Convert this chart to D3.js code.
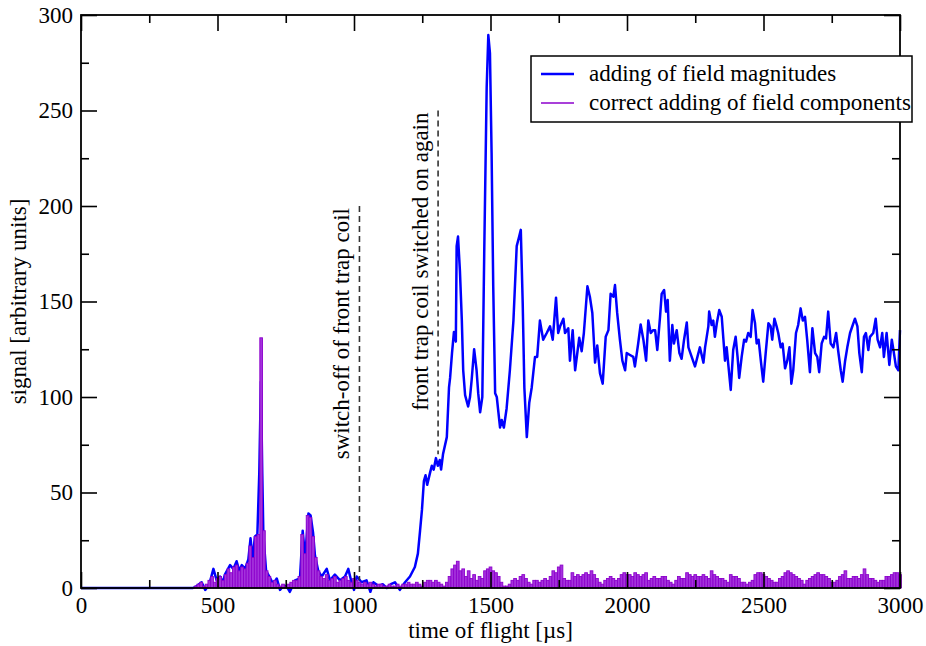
<!DOCTYPE html>
<html>
<head>
<meta charset="utf-8">
<script src="https://cdn.jsdelivr.net/npm/d3@7"></script>
<style>
  html, body { margin: 0; padding: 0; background: #fff; }
  svg { display: block; }
  text { font-family: "Liberation Serif", "DejaVu Serif", serif; fill: #000; }
</style>
</head>
<body>
<svg id="chart" width="926" height="646"></svg>
<script>
// ---- data -------------------------------------------------------------
// adding of field magnitudes: time of flight [µs] and signal
const magTime = [
  0, 410, 424, 442, 455, 470, 485, 497, 509, 520, 527, 546, 558, 570, 580, 589,
  601, 613, 621, 629, 637, 646, 653, 659, 664, 668, 678, 690, 704, 717, 729, 740,
  753, 765, 784, 802, 812, 821, 833, 841, 850, 857, 869, 882, 900, 912, 930, 949,
  967, 979, 991, 1000, 1010, 1028, 1046, 1060, 1071, 1090, 1105, 1120, 1135, 1150,
  1168, 1187, 1205, 1223, 1234, 1242, 1249, 1256, 1262, 1268, 1278, 1285, 1292,
  1300, 1307, 1314, 1319, 1326, 1340, 1348, 1352, 1359, 1366, 1373, 1376, 1381,
  1388, 1395, 1400, 1407, 1418, 1425, 1431, 1440, 1449, 1455, 1462, 1470, 1477,
  1486, 1492, 1498, 1504, 1510, 1517, 1523, 1529, 1535, 1541, 1549, 1559, 1571,
  1584, 1596, 1605, 1611, 1618, 1624, 1633, 1642, 1651, 1663, 1671, 1681, 1693,
  1706, 1718, 1728, 1740, 1748, 1755, 1767, 1773, 1785, 1791, 1801, 1810, 1825,
  1834, 1842, 1855, 1864, 1873, 1883, 1891, 1901, 1911, 1922, 1932, 1940, 1950,
  1956, 1964, 1974, 1983, 1993, 1999, 2011, 2023, 2029, 2041, 2050, 2060, 2070,
  2078, 2087, 2096, 2103, 2111, 2121, 2127, 2136, 2143, 2149, 2157, 2166, 2172,
  2182, 2192, 2200, 2209, 2219, 2225, 2237, 2249, 2258, 2267, 2280, 2286, 2298,
  2301, 2310, 2316, 2322, 2329, 2338, 2347, 2359, 2365, 2380, 2389, 2398, 2405,
  2411, 2420, 2429, 2436, 2444, 2453, 2460, 2469, 2475, 2482, 2491, 2499, 2508,
  2518, 2526, 2532, 2540, 2548, 2554, 2563, 2570, 2579, 2587, 2595, 2602, 2609,
  2619, 2627, 2636, 2644, 2652, 2660, 2670, 2679, 2689, 2697, 2704, 2713, 2722,
  2729, 2737, 2746, 2756, 2766, 2774, 2783, 2790, 2799, 2807, 2817, 2827, 2835,
  2844, 2851, 2860, 2868, 2875, 2884, 2890, 2902, 2911, 2918, 2927, 2935, 2941,
  2951, 2961, 2970, 2976, 2985, 2994, 3000
];
const magSignal = [
  0, 0, 1, 3, -1, 2, 10, 4, 6, 3, 7, 12, 10, 14, 9, 12,
  10, 15, 26, 15, 27, 28, 60, 108, 60, 28, 9, 6, 2, 5, -1, 1,
  1, -2, 4, 5, 30, 16, 39, 38, 29, 17, 9, 6, 10, 4, 7, 4,
  6, 10, 3, -1, 6, 3, 4, -2, 3, 1, 2, 0, 2, 3,
  -1, 3, 6, 11, 18, 30, 41, 56, 59, 54, 60, 64, 62,
  68, 64, 67, 62, 70, 79, 105, 110, 123, 134, 129, 179, 184,
  166, 140, 114, 101, 95, 100, 109, 125, 114, 102, 92, 100, 175,
  262, 289.5, 280, 228, 158, 102, 100, 92, 84, 88, 84, 94, 114,
  140, 179, 184, 187.5, 149, 105, 79, 97, 105, 121, 121, 140, 130,
  133.5, 137, 130, 152, 133.5, 137, 141, 133.5, 136, 119, 135, 114, 131,
  124, 133.5, 158, 152.5, 144, 118, 127, 112.5, 107, 131.5, 135, 154, 152.5,
  158.6, 144, 130, 119, 114, 123, 122, 121, 116, 128, 138, 130, 119,
  140, 133.5, 135, 135, 124.6, 142, 154, 156, 144.7, 150.8, 119, 137.7, 128,
  135, 123, 120, 130, 139, 126, 121, 116, 121, 126, 118, 126, 137,
  144.7, 137.7, 140, 131.5, 138.6, 145.5, 142, 119, 126, 103.7, 124.6, 131.5, 121,
  110, 121, 130, 129, 133.5, 131.5, 145.5, 138.6, 128, 130, 118, 108, 123,
  138.6, 137, 130, 141, 137, 133.5, 126, 128, 115, 119, 126, 107, 114,
  133.5, 137.7, 146.4, 140, 142, 130, 113, 136, 123, 121, 113, 128, 131.5,
  130.7, 144.7, 128, 126, 133.5, 123.7, 114, 108, 119, 126, 133.5, 137.7, 141,
  137, 123, 113, 131.5, 133.5, 124.6, 131.5, 133.5, 141, 130, 126, 133.5, 121,
  133.5, 116.8, 130, 124.6, 116, 114, 135
];

// correct adding of field components: one bin every 10 µs from 0 µs
const compBinWidth = 10;
const compSignal = [
  0, 0, 0, 0, 0, 0, 0, 0, 0, 0,
  0, 0, 0, 0, 0, 0, 0, 0, 0, 0,
  0, 0, 0, 0, 0, 0, 0, 0, 0, 0,
  0, 0, 0, 0, 0, 0, 0, 0, 0, 0,
  0, 0, 1, 2, 3, 1, 2, 4, 6, 3,
  5, 6, 4, 7, 10, 8, 11, 12, 9, 11,
  10, 13, 22, 16, 27, 28, 131, 30, 9, 6,
  3, 4, 2, 1, 2, 1, 2, 3, 4, 4,
  6, 28, 18, 38, 37, 27, 16, 9, 6, 5,
  7, 4, 5, 6, 3, 4, 5, 6, 4, 3,
  5, 4, 3, 2, 3, 2, 3, 2, 1, 2,
  2, 1, 1, 2, 1, 1, 2, 1, 2, 2,
  3, 2, 2, 3, 2, 1, 3, 4, 4, 3,
  4, 3, 2, 1, 3, 6, 10, 12, 14, 9,
  10, 6, 9, 5, 7, 4, 6, 5, 9, 10,
  11, 9, 8, 6, 3, 1, 1, 2, 4, 5,
  4, 6, 7, 5, 3, 2, 4, 4, 3, 4,
  5, 4, 6, 9, 8, 11, 12, 5, 4, 4,
  8, 6, 7, 6, 7, 8, 7, 9, 7, 5,
  3, 2, 4, 5, 6, 5, 4, 5, 7, 8,
  7, 7, 6, 8, 7, 6, 7, 8, 4, 5,
  6, 5, 5, 6, 6, 4, 3, 2, 4, 6,
  5, 5, 8, 7, 6, 7, 6, 6, 7, 6,
  5, 9, 7, 6, 5, 5, 4, 3, 7, 6,
  6, 5, 3, 3, 2, 3, 4, 7, 8, 8,
  7, 6, 5, 4, 3, 3, 5, 6, 8, 9,
  8, 7, 6, 5, 4, 2, 4, 5, 6, 7,
  8, 7, 7, 6, 5, 3, 3, 4, 6, 7,
  9, 5, 5, 6, 6, 5, 7, 10, 7, 5,
  5, 4, 3, 4, 4, 6, 6, 7, 8, 8,
  7
];

const xTicks = [0, 500, 1000, 1500, 2000, 2500, 3000];
const xMinorTicks = [250, 750, 1250, 1750, 2250, 2750];
const yTicks = [0, 50, 100, 150, 200, 250, 300];
const yMinorTicks = [25, 75, 125, 175, 225, 275];

const seriesNames = ["adding of field magnitudes", "correct adding of field components"];
const markers = [
  { time: 1020, from: 200, to: 4, text: "switch-off of front trap coil" },
  { time: 1308, from: 250, to: 70, text: "front trap coil switched on again" }
];

// ---- layout -----------------------------------------------------------
const svg = d3.select("#chart");
const plotLeft = 81, plotRight = 900, plotTop = 15, plotBottom = 588;
const fontSize = 23;
const x = d3.scaleLinear().domain([0, 3000]).range([plotLeft, plotRight]);
const y = d3.scaleLinear().domain([0, 300]).range([plotBottom, plotTop]);

const blue = "#0000ff";
const violet = "#8c00cc";
const violetFill = "#a432dc";

// magnitude line, drawn first so the histogram sits over it
const magData = magTime.map((t, i) => ({ t, v: magSignal[i] }));
svg.append("path")
  .datum(magData)
  .attr("d", d3.line().x(d => x(d.t)).y(d => y(d.v)))
  .attr("fill", "none")
  .attr("stroke", blue)
  .attr("stroke-width", 2.5)
  .attr("stroke-linejoin", "round");

// component histogram
const comp = compSignal.map((v, i) => ({ t: i * compBinWidth, v }));
svg.append("g").selectAll("rect")
  .data(comp.filter(d => d.v > 0))
  .join("rect")
  .attr("x", d => x(d.t - compBinWidth / 2))
  .attr("width", x(compBinWidth) - x(0))
  .attr("y", d => y(d.v))
  .attr("height", d => y(0) - y(d.v))
  .attr("fill", violetFill)
  .attr("stroke", violet)
  .attr("stroke-width", 0.9);

// event markers
markers.forEach(m => {
  svg.append("line")
    .attr("x1", x(m.time)).attr("x2", x(m.time))
    .attr("y1", y(m.from)).attr("y2", y(m.to))
    .attr("stroke", "#333")
    .attr("stroke-width", 1.6)
    .attr("stroke-dasharray", "6,4");
  svg.append("text")
    .attr("transform", `translate(${x(m.time) - 10},${y(m.from) + 2}) rotate(-90)`)
    .attr("text-anchor", "end")
    .attr("font-size", fontSize)
    .text(m.text);
});

// ---- axes -------------------------------------------------------------
function styleAxis(g) {
  g.selectAll("path.domain").remove();
  g.selectAll("line").attr("stroke", "#000").attr("stroke-width", 1.6);
  g.selectAll("text")
    .attr("font-family", "'Liberation Serif', serif")
    .attr("font-size", fontSize)
    .attr("fill", "#000");
}
const fmt = d3.format("d");

svg.append("g").attr("transform", `translate(0,${plotBottom})`)
  .call(d3.axisBottom(x).tickValues(xTicks).tickFormat(fmt).tickSizeInner(-16).tickSizeOuter(0).tickPadding(9))
  .call(styleAxis);
svg.append("g").attr("transform", `translate(0,${plotBottom})`)
  .call(d3.axisBottom(x).tickValues(xMinorTicks).tickFormat("").tickSizeInner(-8).tickSizeOuter(0))
  .call(styleAxis);
svg.append("g").attr("transform", `translate(0,${plotTop})`)
  .call(d3.axisTop(x).tickValues(xTicks).tickFormat("").tickSizeInner(-16).tickSizeOuter(0))
  .call(styleAxis);
svg.append("g").attr("transform", `translate(0,${plotTop})`)
  .call(d3.axisTop(x).tickValues(xMinorTicks).tickFormat("").tickSizeInner(-8).tickSizeOuter(0))
  .call(styleAxis);

svg.append("g").attr("transform", `translate(${plotLeft},0)`)
  .call(d3.axisLeft(y).tickValues(yTicks).tickFormat(fmt).tickSizeInner(-16).tickSizeOuter(0).tickPadding(8))
  .call(styleAxis);
svg.append("g").attr("transform", `translate(${plotLeft},0)`)
  .call(d3.axisLeft(y).tickValues(yMinorTicks).tickFormat("").tickSizeInner(-8).tickSizeOuter(0))
  .call(styleAxis);
svg.append("g").attr("transform", `translate(${plotRight},0)`)
  .call(d3.axisRight(y).tickValues(yTicks).tickFormat("").tickSizeInner(-16).tickSizeOuter(0))
  .call(styleAxis);
svg.append("g").attr("transform", `translate(${plotRight},0)`)
  .call(d3.axisRight(y).tickValues(yMinorTicks).tickFormat("").tickSizeInner(-8).tickSizeOuter(0))
  .call(styleAxis);

// frame
svg.append("rect")
  .attr("x", plotLeft).attr("y", plotTop)
  .attr("width", plotRight - plotLeft).attr("height", plotBottom - plotTop)
  .attr("fill", "none").attr("stroke", "#000").attr("stroke-width", 1.8);

// axis titles
svg.append("text")
  .attr("x", (plotLeft + plotRight) / 2).attr("y", 638)
  .attr("text-anchor", "middle").attr("font-size", fontSize)
  .text("time of flight [µs]");
svg.append("text")
  .attr("transform", `translate(26,${(plotTop + plotBottom) / 2}) rotate(-90)`)
  .attr("text-anchor", "middle").attr("font-size", fontSize)
  .text("signal [arbitrary units]");

// ---- legend -----------------------------------------------------------
const legend = svg.append("g").attr("transform", "translate(531,56)");
legend.append("rect")
  .attr("width", 381).attr("height", 66)
  .attr("fill", "#fff").attr("stroke", "#000").attr("stroke-width", 1.5);
const legendStyles = [
  { color: blue, width: 2.6 },
  { color: violet, width: 1.3 }
];
seriesNames.forEach((name, i) => {
  const yy = 18 + i * 29;
  legend.append("line")
    .attr("x1", 10).attr("x2", 43).attr("y1", yy).attr("y2", yy)
    .attr("stroke", legendStyles[i].color).attr("stroke-width", legendStyles[i].width);
  legend.append("text")
    .attr("x", 58).attr("y", yy + 7)
    .attr("font-size", fontSize)
    .text(name);
});
</script>
</body>
</html>
